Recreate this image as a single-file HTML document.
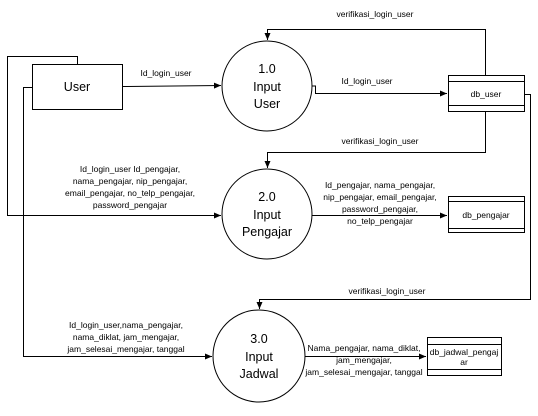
<!DOCTYPE html>
<html><head><meta charset="utf-8"><style>
body{margin:0;background:#fff}
svg text{font-family:"Liberation Sans",sans-serif;fill:#000}
.s{font-size:8.5px}
.b{font-size:12.5px}
</style></head><body>
<svg width="538" height="411" viewBox="0 0 538 411" xmlns="http://www.w3.org/2000/svg">
<defs><marker id="a" markerWidth="8" markerHeight="8" refX="7" refY="3" orient="auto" markerUnits="userSpaceOnUse"><path d="M0,0 L7,3 L0,6 z" fill="#000"/></marker></defs>
<g fill="none" stroke="#000" stroke-width="1">
<rect x="32.5" y="64.5" width="90" height="45"/>
<circle cx="267" cy="86" r="45"/>
<circle cx="267" cy="214" r="45"/>
<circle cx="259" cy="356" r="46"/>
<rect x="448.5" y="75.5" width="76" height="36"/><line x1="448" y1="81.5" x2="524" y2="81.5"/><line x1="448" y1="105.5" x2="524" y2="105.5"/>
<rect x="448.5" y="196.5" width="76" height="36"/><line x1="448" y1="201.5" x2="524" y2="201.5"/><line x1="448" y1="228.5" x2="524" y2="228.5"/>
<rect x="427.5" y="337.5" width="74" height="38"/><line x1="427" y1="344.5" x2="501" y2="344.5"/><line x1="427" y1="369.5" x2="501" y2="369.5"/>
<polyline points="122,86.5 221,85.5" marker-end="url(#a)"/>
<polyline points="77.5,64 77.5,56.5 7.5,56.5 7.5,215.5 221,215.5" marker-end="url(#a)"/>
<polyline points="32,87.5 23.5,87.5 23.5,356.5 212,356.5" marker-end="url(#a)"/>
<polyline points="312,86 315.5,86 315.5,93.5 447,93.5" marker-end="url(#a)"/>
<polyline points="485.5,75 485.5,29.5 267.5,29.5 267.5,40" marker-end="url(#a)"/>
<polyline points="485.5,112 485.5,152.5 267.5,152.5 267.5,168" marker-end="url(#a)"/>
<polyline points="524,94.5 530.5,94.5 530.5,299.5 259.5,299.5 259.5,309" marker-end="url(#a)"/>
<polyline points="312,215.5 447,215.5" marker-end="url(#a)"/>
<polyline points="305,356.5 426,356.5" marker-end="url(#a)"/>
</g>
<g class="b" text-anchor="middle">
<text x="77" y="91">User</text>
<text x="267" y="73">1.0</text><text x="267" y="91">Input</text><text x="267" y="108">User</text>
<text x="267" y="201">2.0</text><text x="267" y="219">Input</text><text x="267" y="236">Pengajar</text>
<text x="259" y="343">3.0</text><text x="259" y="361">Input</text><text x="259" y="378">Jadwal</text>
</g>
<g class="s" text-anchor="middle">
<text x="486" y="97">db_user</text>
<text x="486" y="218">db_pengajar</text>
<text x="464" y="355">db_jadwal_pengaj</text><text x="464" y="365">ar</text>
<text x="166" y="76">Id_login_user</text>
<text x="367" y="84">Id_login_user</text>
<text x="375" y="17">verifikasi_login_user</text>
<text x="380" y="144">verifikasi_login_user</text>
<text x="387" y="294">verifikasi_login_user</text>
<text x="130" y="172">Id_login_user Id_pengajar,</text>
<text x="130" y="184">nama_pengajar, nip_pengajar,</text>
<text x="130" y="196">email_pengajar, no_telp_pengajar,</text>
<text x="130" y="208">password_pengajar</text>
<text x="380" y="188">Id_pengajar, nama_pengajar,</text>
<text x="380" y="200">nip_pengajar, email_pengajar,</text>
<text x="380" y="212">password_pengajar,</text>
<text x="380" y="224">no_telp_pengajar</text>
<text x="126" y="328">Id_login_user,nama_pengajar,</text>
<text x="126" y="340">nama_diklat, jam_mengajar,</text>
<text x="126" y="352">jam_selesai_mengajar, tanggal</text>
<text x="364" y="351">Nama_pengajar, nama_diklat,</text>
<text x="364" y="363">jam_mengajar,</text>
<text x="364" y="375">jam_selesai_mengajar, tanggal</text>
</g>
</svg>
</body></html>
